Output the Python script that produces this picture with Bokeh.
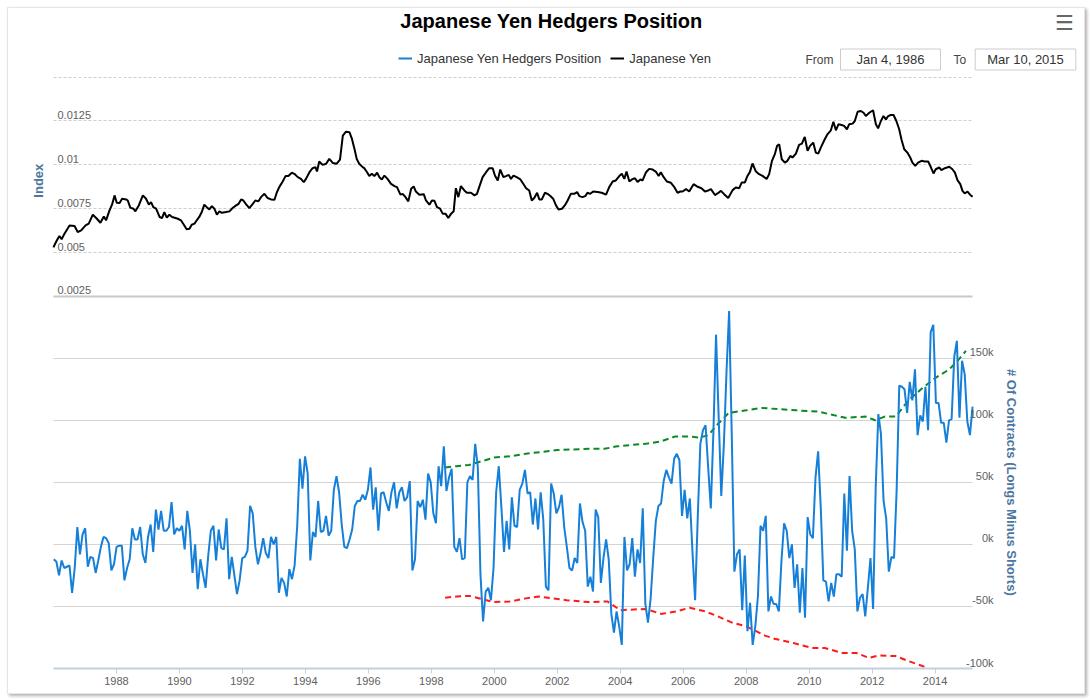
import numpy as np
from bokeh.plotting import figure
from bokeh.models import (Range1d, LinearAxis, FixedTicker, Grid, Label, LabelSet,
                          ColumnDataSource, Legend, LegendItem)
from bokeh.core.properties import value
from bokeh.embed import file_html
from bokeh.resources import INLINE

FONT = "Liberation Sans"

# net hedger position, thousands of contracts, monthly Jan 1986 - Mar 2015
hedger_net = [
    -12, -14, -25, -13, -19, -18, -17, -39, -19, 14,
    -8, 8, 13, -18, -10, -11, -23, -13, -2, 6,
    5, 1, -21, -16, -2, -1, -1, -29, -19, -12,
    13, 4, 4, 14, -8, -15, 6, 16, -6, 28,
    12, 27, 11, 11, 14, 34, 8, 13, 11, 15,
    -4, 27, 11, -23, 0, -36, -12, -24, -35, -9,
    11, 15, -13, 12, -3, -4, 21, -28, -10, -25,
    -40, -29, -11, -10, -5, 31, 25, -2, -16, -7,
    5, -7, -11, 6, 0, 6, -39, -27, -31, -42,
    -20, -28, -17, 15, 69, 45, 71, 57, -13, 10,
    6, 35, 10, 11, 23, 7, 11, 44, 55, 42,
    16, -2, -3, 4, 12, 31, 35, 35, 40, 36,
    44, 62, 28, 46, 11, 41, 42, 34, 27, 42,
    50, 29, 42, 46, 35, 38, 51, -21, -12, 35,
    30, 36, 20, 57, 50, 25, 17, 63, 47, 79,
    43, 54, 61, -2, -6, 5, -12, -11, 50, 55,
    52, 81, 62, -24, -62, -38, -35, -45, -19, 42,
    63, 30, -6, 19, -4, 38, 15, 14,
    44, 49, 60, 41, 42, 16, 37, 12, 42, 20,
    -34, -37, 49, 41, 25, 30, 40, 14, -2, -19,
    -21, -11, -15, 33, 18, 11, -34, -26, -38, 28,
    22, -31, -11, 4, -12, -56, -71, -54, -66, -81,
    6, -21, -16, 5, -26, -4, -15, 29, -48, -63,
    -44, -11, 19, 31, 33, 51, 60, 54, 49, 69,
    73, 68, 23, 44, 21, 37, -6, -45, 21, 81,
    92, 96, 62, 29, 91, 169, 103, 39, 81, 139,
    188, 89, -22, -8, -4, -53, -9,
    -70, -47, -81, -66, -42, 15, 11, 23, -54, -42,
    -48, -48, -54, -13, 17, 11, -11, 0, -35, -16,
    -55, -19, -59, 22, 8, 5, 54, 75, 30, -29,
    -30, -46, -31, -42, -24, -24, -26, 41, -5, 55,
    11, -4, -54, -43, -40, -58, -35, -11, -52, 46,
    105, 89, 35, 21, -22, -10, -11, 44, 128, 127,
    125, 106, 131, 116, 141, 88, 104, 99, 127, 92,
    171, 177, 114, 114, 98, 98, 82, 100, 101, 151,
    164, 102, 148, 137, 99, 88, 111,
]
hedger_years = np.linspace(1986.01, 2015.19, len(hedger_net))

# upper / lower dashed bands (thousands of contracts)
upper_years = [1998.44, 1998.8, 1999.2, 1999.6, 2000.0, 2000.5, 2001.0, 2001.5, 2002.0,
               2002.5, 2003.0, 2003.5, 2003.9, 2004.3, 2004.8, 2005.3, 2005.75, 2006.2,
               2006.5, 2006.8, 2007.1, 2007.45, 2008.0, 2008.5, 2009.0, 2009.6, 2010.3,
               2010.8, 2011.15, 2011.8, 2012.1, 2012.4, 2012.75, 2013.15, 2013.6, 2014.0,
               2014.45, 2014.75, 2014.98]
upper_vals = [62, 63, 64, 67, 70, 71, 73, 74.5, 76, 76.5, 77, 77, 79, 80, 81, 83, 87, 87,
              86, 88, 97, 106, 108, 110, 109, 108, 107, 104, 102, 103, 100, 103, 103, 116,
              126, 134, 141, 149, 156]
lower_years = [1998.44, 1998.8, 1999.2, 1999.6, 2000.0, 2000.5, 2001.0, 2001.4, 2002.3,
               2003.0, 2003.6, 2004.0, 2004.8, 2005.3, 2005.8, 2006.2, 2006.7, 2007.1,
               2007.55, 2008.0, 2008.6, 2008.9, 2009.5, 2010.1, 2010.5, 2011.05, 2011.5,
               2011.9, 2012.2, 2012.75, 2013.15, 2013.6, 2013.9, 2014.2]
lower_vals = [-43, -42, -41.5, -44, -46.5, -46, -43.5, -42, -45, -46.5, -46, -53, -52, -56,
              -54, -51, -54, -58, -63, -66, -73.5, -76, -79.5, -83.5, -83.5, -87.5, -87.5,
              -91.5, -89.5, -90, -94, -98, -102, -106]

# Japanese yen in US dollars
yen_years = [
    1986.00, 1986.03, 1986.11, 1986.19, 1986.26, 1986.35, 1986.51, 1986.67, 1986.77, 1986.88,
    1987.02, 1987.12, 1987.25, 1987.38, 1987.49, 1987.60, 1987.67, 1987.78, 1987.86, 1987.94,
    1988.01, 1988.10, 1988.18, 1988.31, 1988.36, 1988.44, 1988.54, 1988.60, 1988.71, 1988.84,
    1988.94, 1989.03, 1989.10, 1989.17, 1989.26, 1989.37, 1989.45, 1989.52, 1989.60, 1989.68,
    1989.77, 1989.95, 1990.05, 1990.14, 1990.23, 1990.32, 1990.39, 1990.48, 1990.55, 1990.63,
    1990.71, 1990.79, 1990.87, 1990.95, 1991.03, 1991.11, 1991.19, 1991.27, 1991.35, 1991.48,
    1991.59, 1991.69, 1991.80, 1991.88, 1991.96, 1992.03, 1992.12, 1992.22, 1992.33, 1992.41,
    1992.51, 1992.59, 1992.70, 1992.80, 1992.91, 1993.02, 1993.09, 1993.17, 1993.28, 1993.37,
    1993.46, 1993.57, 1993.65, 1993.76, 1993.86, 1993.95, 1994.02, 1994.13, 1994.23, 1994.32,
    1994.37, 1994.44, 1994.55, 1994.66, 1994.76, 1994.87, 1994.99, 1995.10, 1995.19, 1995.29,
    1995.40, 1995.48, 1995.56, 1995.63, 1995.71, 1995.82,
    1995.87, 1995.96, 1996.03, 1996.11, 1996.19, 1996.28, 1996.35, 1996.43, 1996.51, 1996.61,
    1996.72, 1996.83, 1996.91, 1997.02, 1997.09, 1997.18, 1997.27, 1997.36, 1997.44, 1997.51,
    1997.62, 1997.76, 1997.83, 1997.94, 1998.02, 1998.10, 1998.18, 1998.28, 1998.36, 1998.45,
    1998.54, 1998.63, 1998.71, 1998.78, 1998.86, 1998.94, 1999.05, 1999.13, 1999.26, 1999.37,
    1999.45, 1999.54, 1999.63, 1999.74, 1999.84, 1999.95, 2000.02, 2000.11, 2000.19, 2000.29,
    2000.37, 2000.46, 2000.53, 2000.61, 2000.71, 2000.83, 2000.92, 2001.01, 2001.11, 2001.19,
    2001.27, 2001.36, 2001.43, 2001.51, 2001.61, 2001.69, 2001.78, 2001.87, 2001.96, 2002.04,
    2002.15, 2002.24, 2002.33, 2002.43, 2002.54, 2002.63, 2002.70, 2002.80, 2002.89, 2002.96,
    2003.05, 2003.14, 2003.28, 2003.41, 2003.55, 2003.65, 2003.76, 2003.86, 2003.97, 2004.05,
    2004.13, 2004.20, 2004.29, 2004.37, 2004.47, 2004.55, 2004.64, 2004.71, 2004.82, 2004.92,
    2005.03, 2005.13, 2005.22, 2005.29, 2005.38, 2005.48, 2005.61, 2005.72, 2005.82, 2005.91,
    2005.98, 2006.09, 2006.19, 2006.33, 2006.46, 2006.58, 2006.69, 2006.77, 2006.88, 2007.01,
    2007.09, 2007.20, 2007.30, 2007.43, 2007.57, 2007.67, 2007.78, 2007.86, 2007.96, 2008.04,
    2008.12, 2008.20, 2008.31, 2008.41, 2008.52, 2008.65, 2008.73, 2008.82, 2008.91, 2008.98,
    2009.05, 2009.13, 2009.23, 2009.31, 2009.40, 2009.47, 2009.58, 2009.68, 2009.77, 2009.86,
    2009.95, 2010.03, 2010.13, 2010.21, 2010.29, 2010.37, 2010.48, 2010.58, 2010.69, 2010.77,
    2010.85, 2010.93, 2011.03, 2011.11, 2011.20, 2011.27, 2011.38, 2011.45, 2011.54, 2011.64,
    2011.73, 2011.80, 2011.91, 2012.03, 2012.12, 2012.19, 2012.28, 2012.36, 2012.44, 2012.51,
    2012.59, 2012.68, 2012.77, 2012.86, 2012.93, 2013.02, 2013.12, 2013.21, 2013.28, 2013.37,
    2013.46, 2013.57, 2013.67, 2013.78, 2013.86, 2013.95, 2014.02, 2014.13, 2014.20, 2014.31,
    2014.45, 2014.55, 2014.63, 2014.71, 2014.80, 2014.87, 2014.94, 2015.03, 2015.11, 2015.19,
]
yen_values = [
    0.00530, 0.00542, 0.00570, 0.00595, 0.00576, 0.00608, 0.00655, 0.00652, 0.00617, 0.00627,
    0.00655, 0.00665, 0.00716, 0.00693, 0.00670, 0.00706, 0.00684, 0.00741, 0.00773, 0.00826,
    0.00784, 0.00782, 0.00807, 0.00803, 0.00797, 0.00756, 0.00750, 0.00735, 0.00769, 0.00826,
    0.00807, 0.00773, 0.00788, 0.00759, 0.00750, 0.00703, 0.00697, 0.00731, 0.00699, 0.00716,
    0.00703, 0.00693, 0.00684, 0.00659, 0.00633, 0.00636, 0.00659, 0.00665, 0.00684, 0.00703,
    0.00731, 0.00773, 0.00759, 0.00746, 0.00765, 0.00750, 0.00716, 0.00735, 0.00727, 0.00731,
    0.00735, 0.00754, 0.00769, 0.00778, 0.00803, 0.00797, 0.00775, 0.00754, 0.00778, 0.00797,
    0.00792, 0.00816, 0.00835, 0.00811, 0.00803, 0.00801, 0.00841, 0.00873, 0.00905, 0.00936,
    0.00936, 0.00955, 0.00949, 0.00930, 0.00920, 0.00902, 0.00920, 0.00958, 0.00981, 0.00987,
    0.00962, 0.01019, 0.01000, 0.01006, 0.01034, 0.01011, 0.01006, 0.01030, 0.01167, 0.01189,
    0.01186, 0.01148, 0.01091, 0.01034, 0.01006, 0.00987,
    0.00981, 0.00958, 0.00936, 0.00949, 0.00936, 0.00955, 0.00930, 0.00917, 0.00939, 0.00920,
    0.00892, 0.00879, 0.00873, 0.00830, 0.00835, 0.00816, 0.00792, 0.00864, 0.00877, 0.00848,
    0.00830, 0.00833, 0.00797, 0.00773, 0.00797, 0.00795, 0.00759, 0.00750, 0.00722, 0.00722,
    0.00697, 0.00722, 0.00735, 0.00867, 0.00816, 0.00879, 0.00854, 0.00841, 0.00841, 0.00826,
    0.00835, 0.00883, 0.00930, 0.00958, 0.00981, 0.00981, 0.00939, 0.00911, 0.00973, 0.00930,
    0.00936, 0.00943, 0.00920, 0.00939, 0.00930, 0.00917, 0.00892, 0.00867, 0.00854, 0.00797,
    0.00811, 0.00841, 0.00803, 0.00803, 0.00841, 0.00835, 0.00822, 0.00807, 0.00769, 0.00746,
    0.00750, 0.00769, 0.00797, 0.00835, 0.00835, 0.00845, 0.00822, 0.00816, 0.00822, 0.00841,
    0.00835, 0.00848, 0.00845, 0.00841, 0.00830, 0.00873, 0.00905, 0.00911, 0.00936, 0.00949,
    0.00920, 0.00962, 0.00905, 0.00917, 0.00924, 0.00902, 0.00917, 0.00911, 0.00958, 0.00977,
    0.00973, 0.00962, 0.00936, 0.00958, 0.00930, 0.00905, 0.00898, 0.00873, 0.00841, 0.00848,
    0.00848, 0.00862, 0.00848, 0.00890, 0.00875, 0.00867, 0.00848, 0.00852, 0.00862, 0.00828,
    0.00837, 0.00852, 0.00833, 0.00811, 0.00856, 0.00871, 0.00867, 0.00900, 0.00900, 0.00937,
    0.00960, 0.01008, 0.00962, 0.00947, 0.00937, 0.00919, 0.00947, 0.01023, 0.01061, 0.01108,
    0.01117, 0.01032, 0.01013, 0.01023, 0.01051, 0.01042, 0.01064, 0.01114, 0.01121, 0.01159,
    0.01080, 0.01108, 0.01127, 0.01070, 0.01064, 0.01098, 0.01140, 0.01174, 0.01197, 0.01246,
    0.01197, 0.01231, 0.01227, 0.01222, 0.01203, 0.01231, 0.01235, 0.01250, 0.01303, 0.01307,
    0.01297, 0.01278, 0.01297, 0.01311, 0.01231, 0.01208, 0.01250, 0.01278, 0.01259, 0.01278,
    0.01284, 0.01284, 0.01250, 0.01203, 0.01146, 0.01089, 0.01070, 0.01042, 0.01013, 0.00994,
    0.01013, 0.01023, 0.01019, 0.01019, 0.00989, 0.00951, 0.00975, 0.00985, 0.00970, 0.00981,
    0.00989, 0.00975, 0.00956, 0.00913, 0.00890, 0.00852, 0.00837, 0.00848, 0.00830, 0.00818,
]

year_ticks = list(range(1988, 2015, 2))
index_ticks = [0.0025, 0.005, 0.0075, 0.01, 0.0125]
index_labels = ["0.0025", "0.005", "0.0075", "0.01", "0.0125"]
index_grid = [0.005, 0.0075, 0.01, 0.0125, 0.015]
contract_ticks = [-100, -50, 0, 50, 100, 150]
contract_labels = ["-100k", "-50k", "0k", "50k", "100k", "150k"]

x_start, x_end = 1986.0, 2015.19

# the frame covers the whole card; the ranges are padded so that the
# plotting area sits where the original chart puts it
p = figure(width=1076, height=685, output_backend="svg", toolbar_location=None,
           x_range=Range1d(1984.572, 2018.745), y_range=Range1d(-100, 431.8),
           x_axis_location=None, y_axis_location=None,
           min_border_left=0, min_border_right=0, min_border_top=0, min_border_bottom=25)
p.margin = (8, 0, 0, 8)
p.xgrid.visible = False
p.ygrid.visible = False
p.outline_line_color = None
p.background_fill_color = "white"
p.border_fill_color = "white"
p.styles = {"box-shadow": "0 0 0 1px #e6e6e6, 2px 2px 3px 1px rgba(0,0,0,0.30)"}
p.extra_y_ranges = {"yen": Range1d(-0.0187, 0.01891)}

# grids: solid for the contracts pane, dashed for the yen pane
p.add_layout(Grid(dimension=1, ticker=FixedTicker(ticks=contract_ticks[1:]),
                  cross_bounds=(x_start, x_end), grid_line_color="#d4d4d4", grid_line_width=1))
p.add_layout(Grid(dimension=1, ticker=FixedTicker(ticks=index_grid), y_range_name="yen",
                  cross_bounds=(x_start, x_end), grid_line_color="#cfcfcf",
                  grid_line_width=1, grid_line_dash="3 2"))
p.add_layout(Grid(dimension=1, ticker=FixedTicker(ticks=index_ticks[:1]), y_range_name="yen",
                  cross_bounds=(x_start, x_end), grid_line_color="#c8c8c8", grid_line_width=2))

xaxis = LinearAxis(ticker=FixedTicker(ticks=year_ticks), bounds=(x_start, x_end))
xaxis.axis_line_color = "#c0d0e0"
xaxis.axis_line_width = 2
xaxis.major_tick_line_color = "#c0d0e0"
xaxis.major_tick_out = 5
xaxis.major_tick_in = 0
xaxis.minor_tick_line_color = None
xaxis.major_label_standoff = 3
xaxis.major_label_text_font = FONT
xaxis.major_label_text_font_size = "11px"
xaxis.major_label_text_color = "#606060"
p.add_layout(xaxis, "below")

p.line(upper_years, upper_vals, line_color="#0a8a24", line_width=2, line_dash="6 4")
p.line(lower_years, lower_vals, line_color="#ff1a1a", line_width=2, line_dash="6 4")
hedgers = p.line(hedger_years, hedger_net, line_color="#1680d8", line_width=2)
yen = p.line(yen_years, yen_values, line_color="black", line_width=2, y_range_name="yen")

# tick labels
left_src = ColumnDataSource(dict(x=[x_start] * len(index_ticks), y=index_ticks, text=index_labels))
p.add_layout(LabelSet(x="x", y="y", text="text", source=left_src, y_range_name="yen",
                      x_offset=4, y_offset=2, text_baseline="alphabetic", text_align="left",
                      text_font=value(FONT), text_font_size="11px", text_color="#606060"))
right_src = ColumnDataSource(dict(x=[x_end] * len(contract_ticks), y=contract_ticks,
                                  text=contract_labels))
p.add_layout(LabelSet(x="x", y="y", text="text", source=right_src,
                      x_offset=21, y_offset=6, text_baseline="middle", text_align="right",
                      text_font=value(FONT), text_font_size="11px", text_color="#606060"))

# axis titles
p.add_layout(Label(x=x_start, y=0.0091, y_range_name="yen", x_offset=-15, angle=np.pi / 2,
                   text="Index", text_align="center", text_baseline="middle",
                   text_font=FONT, text_font_size="13px", text_font_style="bold",
                   text_color="#4d759e"))
p.add_layout(Label(x=x_end, y=50, x_offset=39, angle=-np.pi / 2,
                   text="# Of Contracts (Longs Minus Shorts)", text_align="center",
                   text_baseline="middle", text_font=FONT, text_font_size="13px",
                   text_font_style="bold", text_color="#4d759e"))

# title, menu, range inputs (screen units from the frame's lower left)
p.add_layout(Label(x=543, y=648, x_units="screen", y_units="screen",
                   text="Japanese Yen Hedgers Position", text_align="center",
                   text_baseline="middle", text_font=FONT, text_font_size="20px",
                   text_font_style="bold", text_color="black"))
p.add_layout(Label(x=1056, y=646, x_units="screen", y_units="screen", text="\u2630",
                   text_align="center", text_baseline="middle", text_font="DejaVu Sans",
                   text_font_size="21px", text_color="#666666"))
p.add_layout(Label(x=797, y=609, x_units="screen", y_units="screen", text="From",
                   text_align="left", text_baseline="middle", text_font=FONT,
                   text_font_size="12px", text_color="#444444"))
p.add_layout(Label(x=945, y=609, x_units="screen", y_units="screen", text="To",
                   text_align="left", text_baseline="middle", text_font=FONT,
                   text_font_size="12px", text_color="#444444"))
p.add_layout(Label(x=882, y=609, x_units="screen", y_units="screen", text="Jan 4, 1986",
                   text_align="center", text_baseline="middle", text_font=FONT,
                   text_font_size="13px", text_color="#333333", padding=(16, 3),
                   border_line_color="#cccccc", background_fill_color="white"))
p.add_layout(Label(x=1017, y=609, x_units="screen", y_units="screen", text="Mar 10, 2015",
                   text_align="center", text_baseline="middle", text_font=FONT,
                   text_font_size="13px", text_color="#333333", padding=(12, 3),
                   border_line_color="#cccccc", background_fill_color="white"))

legend = Legend(items=[LegendItem(label="Japanese Yen Hedgers Position", renderers=[hedgers]),
                       LegendItem(label="Japanese Yen", renderers=[yen])],
                location=(390, 602), orientation="horizontal",
                glyph_width=14, glyph_height=16, label_standoff=5, spacing=9,
                padding=0, margin=0, border_line_color=None, background_fill_alpha=0,
                label_text_font=FONT, label_text_font_size="13px", label_text_color="#333333")
p.add_layout(legend)

open("out.html", "w").write(file_html(p, INLINE))
